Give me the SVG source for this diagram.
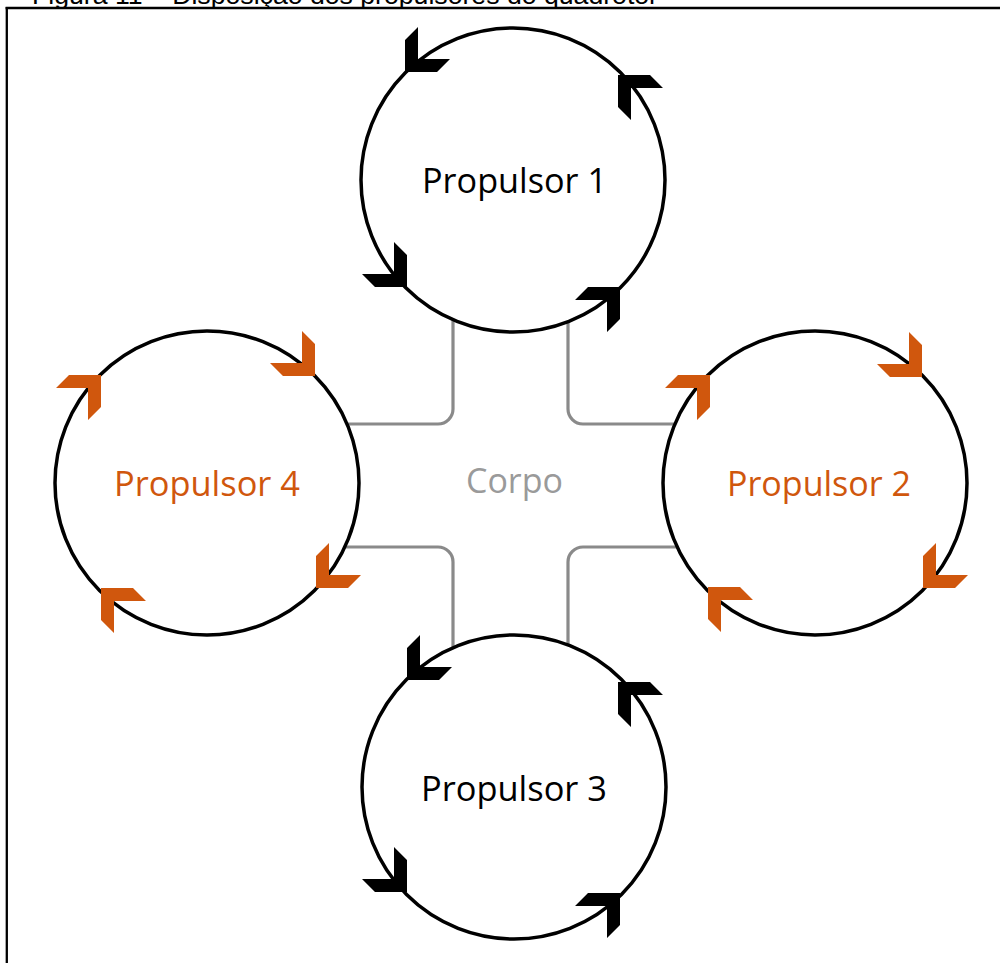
<svg xmlns="http://www.w3.org/2000/svg" width="1000" height="963" viewBox="0 0 1000 963">
<style>
.cap{font-family:"Liberation Sans",Arial,sans-serif;font-size:26.5px;fill:#000}
.ring{fill:#fff;stroke:#000;stroke-width:3.5}
.lbl{font-family:"Open Sans","Noto Sans",sans-serif;font-size:34px}
.blk{fill:#000}
.org{fill:#d0570d}
.arm{fill:none;stroke:#8a8a8a;stroke-width:3.2}
.corpo{font-family:"Open Sans","Noto Sans",sans-serif;font-size:34px;fill:#9a9a9a}
</style>
<defs>
<path id="chev" d="M0,0 L32,0 L45,13 L13,13 L13,45 L0,32 Z"/>
</defs>
<rect width="1000" height="963" fill="#fff"/>
<text class="cap" x="32" y="4" textLength="626" lengthAdjust="spacingAndGlyphs">Figura 11 – Disposição dos propulsores do quadrotor</text>
<g id="frame" fill="none" stroke="#000" stroke-width="2.3">
<line x1="5.6" y1="8" x2="1000" y2="8"/>
<line x1="6.8" y1="6.9" x2="6.8" y2="963"/>
</g>
<g id="connectors">
<path class="arm" d="M453,300 V409 A15,15 0 0 1 438,424 H330"/>
<path class="arm" d="M568,300 V409 A15,15 0 0 0 583,424 H700"/>
<path class="arm" d="M330,547 H438 A15,15 0 0 1 453,562 V670"/>
<path class="arm" d="M700,547 H583 A15,15 0 0 0 568,562 V670"/>
</g>
<g id="corpo">
<text class="corpo" x="466" y="493" textLength="97" lengthAdjust="spacingAndGlyphs">Corpo</text>
</g>
<g id="propulsor1">
<circle class="ring" cx="513" cy="180" r="152"/>
<text class="lbl blk" x="422" y="193" textLength="185" lengthAdjust="spacingAndGlyphs">Propulsor 1</text>
<use href="#chev" class="blk" transform="translate(405,72) rotate(270)"/>
<use href="#chev" class="blk" transform="translate(618,75)"/>
<use href="#chev" class="blk" transform="translate(407,287) rotate(180)"/>
<use href="#chev" class="blk" transform="translate(620,287) rotate(90)"/>
</g>
<g id="propulsor2">
<circle class="ring" cx="815" cy="483" r="152"/>
<text class="lbl org" x="727" y="496" textLength="184" lengthAdjust="spacingAndGlyphs">Propulsor 2</text>
<use href="#chev" class="org" transform="translate(710,375) rotate(90)"/>
<use href="#chev" class="org" transform="translate(922,377) rotate(180)"/>
<use href="#chev" class="org" transform="translate(923,588) rotate(270)"/>
<use href="#chev" class="org" transform="translate(708,587)"/>
</g>
<g id="propulsor3">
<circle class="ring" cx="514" cy="787" r="152"/>
<text class="lbl blk" x="421" y="801" textLength="186" lengthAdjust="spacingAndGlyphs">Propulsor 3</text>
<use href="#chev" class="blk" transform="translate(407,680) rotate(270)"/>
<use href="#chev" class="blk" transform="translate(618,682)"/>
<use href="#chev" class="blk" transform="translate(407,892) rotate(180)"/>
<use href="#chev" class="blk" transform="translate(620,893) rotate(90)"/>
</g>
<g id="propulsor4">
<circle class="ring" cx="207" cy="483" r="152"/>
<text class="lbl org" x="114" y="496" textLength="186" lengthAdjust="spacingAndGlyphs">Propulsor 4</text>
<use href="#chev" class="org" transform="translate(101,375) rotate(90)"/>
<use href="#chev" class="org" transform="translate(315,376) rotate(180)"/>
<use href="#chev" class="org" transform="translate(316,588) rotate(270)"/>
<use href="#chev" class="org" transform="translate(101,588)"/>
</g>
</svg>
